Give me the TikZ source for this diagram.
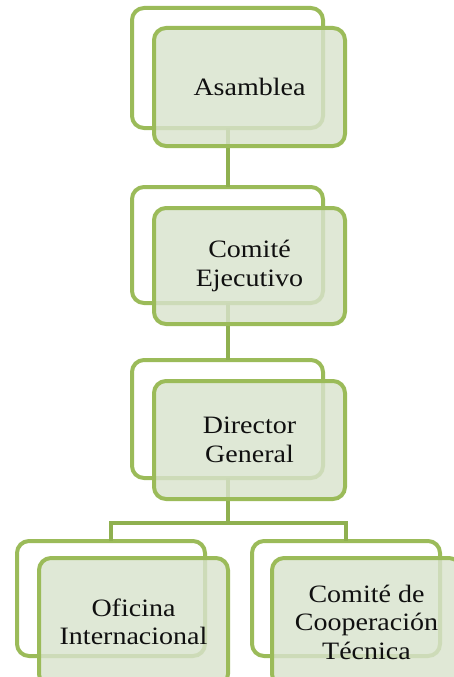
\documentclass[tikz,border=0pt]{standalone}
\usepackage{fontspec}
\setmainfont[FakeStretch=1.12]{Liberation Serif}
\definecolor{leaf}{HTML}{9BBB59}
\definecolor{stem}{HTML}{8FB050}
\definecolor{leaftint}{HTML}{D9E3CD}
\definecolor{ink}{HTML}{101010}
\begin{document}
\begin{tikzpicture}[x=1pt,y=-1pt,
  backbox/.style={draw=leaf, line width=4pt, fill=white, rounded corners=12pt,
    minimum width=191pt, minimum height=120pt, inner sep=0pt, outer sep=0pt},
  frontbox/.style={draw=leaf, line width=4pt, fill=leaftint, fill opacity=0.82,
    text opacity=1, text=ink, rounded corners=12pt, minimum width=191pt,
    minimum height=118pt, inner sep=0pt, outer sep=0pt, align=center,
    font=\fontsize{25}{28.5}\selectfont},
  link/.style={draw=stem, line width=4pt}]
\useasboundingbox (0,0) rectangle (454,677);
\clip (0,0) rectangle (454,677);

% back frames of each unit
\node[backbox] (b1) at (227.5,68) {};
\node[backbox, minimum height=116pt] (b2) at (227.5,245) {};
\node[backbox, minimum height=118pt] (b3) at (227.5,419) {};
\node[backbox, minimum width=188pt, minimum height=115pt] (b4) at (111,598.5) {};
\node[backbox, minimum width=188pt, minimum height=115pt] (b5) at (346,598.5) {};

% reporting lines
\coordinate (split) at (227.5,523);
\draw[link] (b1.south) -- (b2.north);
\draw[link] (b2.south) -- (b3.north);
\draw[link] (b3.south) -- (split);
\draw[link] (b4.north) |- (split) -| (b5.north);

% front cards with the names
\node[frontbox] (f1) at (249.5,87) {Asamblea};
\node[frontbox, minimum height=116pt] (f2) at (249.5,266) {Comité\\Ejecutivo};
\node[frontbox, minimum height=118pt] (f3) at (249.5,440) {Director\\General};
\node[frontbox, minimum width=189pt, minimum height=128pt] (f4) at (133.5,622)
  {Oficina\\Internacional};
\node[frontbox, minimum width=189pt, minimum height=128pt] (f5) at (366.5,622)
  {Comité de\\Cooperación\\Técnica};
\end{tikzpicture}
\end{document}
